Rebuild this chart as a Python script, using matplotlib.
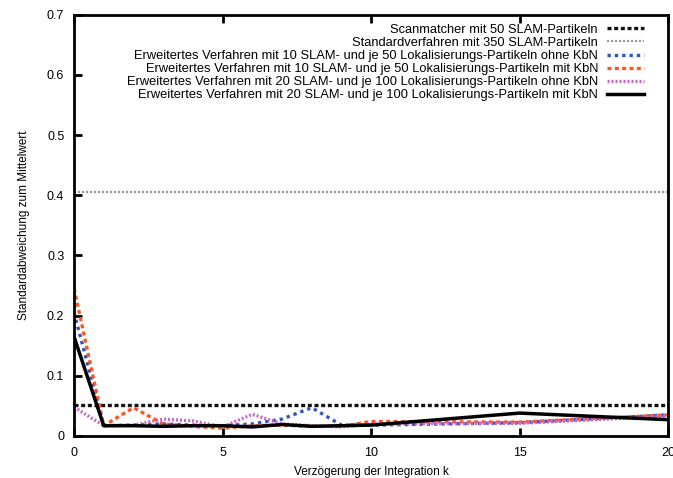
import matplotlib
matplotlib.use("Agg")
import matplotlib.pyplot as plt

plt.rcParams["font.family"] = ["Liberation Sans", "DejaVu Sans"]

# delay k at which the values were measured
k = [0, 1, 2, 3, 4, 5, 6, 7, 8, 9, 10, 15, 20]

scanmatcher_50 = [0.052] * len(k)
standard_350 = [0.405] * len(k)
ext_10_50_ohne = [0.205, 0.017, 0.018, 0.020, 0.018, 0.017, 0.020, 0.028, 0.047, 0.018, 0.018, 0.022, 0.035]
ext_10_50_mit = [0.245, 0.017, 0.047, 0.020, 0.016, 0.013, 0.017, 0.018, 0.016, 0.016, 0.024, 0.023, 0.035]
ext_20_100_ohne = [0.048, 0.017, 0.018, 0.028, 0.025, 0.015, 0.036, 0.020, 0.017, 0.015, 0.020, 0.021, 0.033]
ext_20_100_mit = [0.165, 0.017, 0.017, 0.016, 0.017, 0.017, 0.015, 0.019, 0.016, 0.017, 0.018, 0.038, 0.027]

labels = [
    "Scanmatcher mit 50 SLAM-Partikeln",
    "Standardverfahren mit 350 SLAM-Partikeln",
    "Erweitertes Verfahren mit 10 SLAM- und je 50 Lokalisierungs-Partikeln ohne KbN",
    "Erweitertes Verfahren mit 10 SLAM- und je 50 Lokalisierungs-Partikeln mit KbN",
    "Erweitertes Verfahren mit 20 SLAM- und je 100 Lokalisierungs-Partikeln ohne KbN",
    "Erweitertes Verfahren mit 20 SLAM- und je 100 Lokalisierungs-Partikeln mit KbN",
]

fig = plt.figure(figsize=(6.73, 4.78), dpi=100)
ax = fig.add_axes([0.110, 0.088, 0.883, 0.881])

ax.plot(k, scanmatcher_50, color="#111111", lw=2.4, ls=(0, (1.2, 0.8)), label=labels[0])
ax.plot(k, standard_350, color="#999999", lw=1.6, ls=(0, (1.0, 0.8)), label=labels[1])
ax.plot(k, ext_10_50_ohne, color="#3355bb", lw=2.4, ls=(0, (1.0, 1.2)), label=labels[2])
ax.plot(k, ext_10_50_mit, color="#ff5522", lw=2.4, ls=(0, (1.2, 1.0)), label=labels[3])
ax.plot(k, ext_20_100_ohne, color="#cc66cc", lw=2.4, ls=(0, (0.6, 0.6)), label=labels[4])
ax.plot(k, ext_20_100_mit, color="black", lw=2.5, label=labels[5])

ax.set_xlim(0, 20)
ax.set_ylim(0, 0.7)
ax.set_xticks([0, 5, 10, 15, 20])
ax.set_xticklabels(["0", "5", "10", "15", "20"])
ax.set_yticks([0, 0.1, 0.2, 0.3, 0.4, 0.5, 0.6, 0.7])
ax.set_yticklabels(["0", "0.1", "0.2", "0.3", "0.4", "0.5", "0.6", "0.7"])
ax.tick_params(direction="in", length=6, width=2, labelsize=9, top=True, right=False)
ax.tick_params(axis="x", pad=8)
ax.tick_params(axis="y", pad=7)
for s in ax.spines.values():
    s.set_linewidth(2)

ax.set_xlabel("Verzögerung der Integration k", fontsize=8.5, labelpad=5)
ax.set_ylabel("Standardabweichung zum Mittelwert", fontsize=8.5, labelpad=12)

leg = ax.legend(loc="upper right", frameon=False, markerfirst=False, fontsize=9.3,
                handlelength=2.9, handletextpad=0.7, labelspacing=0.08,
                borderaxespad=0.3, bbox_to_anchor=(0.975, 1.0))

fig.savefig("out.png", dpi=100)
